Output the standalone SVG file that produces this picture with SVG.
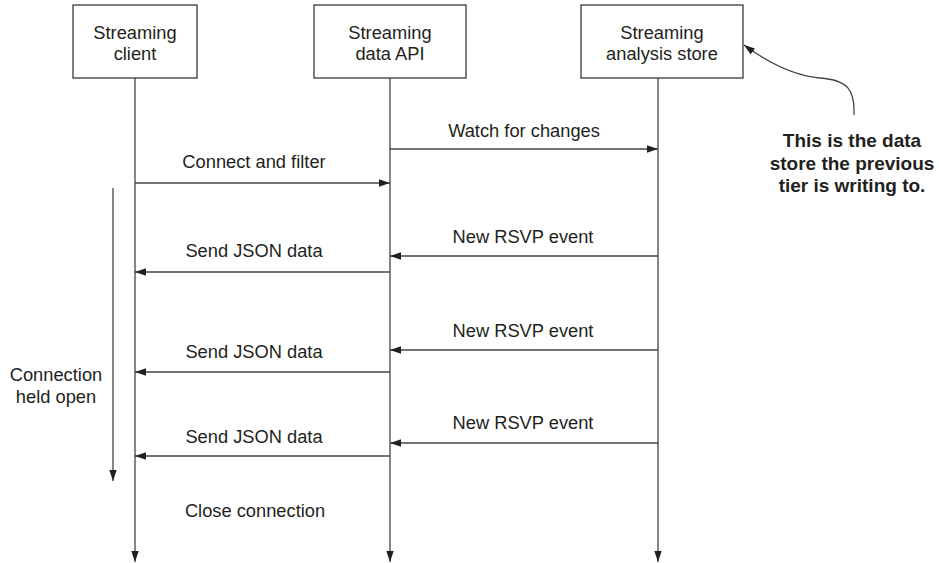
<svg xmlns="http://www.w3.org/2000/svg" width="939" height="563" viewBox="0 0 939 563">
<defs>
<marker id="ah" markerUnits="userSpaceOnUse" markerWidth="12" markerHeight="8" refX="11" refY="4" orient="auto">
<path d="M0,0.3 L11,4 L0,7.7 z" fill="#231f20"/>
</marker>
<style>
.box{fill:#fff;stroke:#3a3a3a;stroke-width:1.3}
.ln{stroke:#444;stroke-width:1.3;fill:none}
.t{font-family:"Liberation Sans",Arial,sans-serif;font-size:18.3px;fill:#231f20;text-anchor:middle}
.note{font-family:"Liberation Sans",Arial,sans-serif;font-size:19px;font-weight:700;fill:#231f20;text-anchor:middle}
</style>
</defs>
<rect width="939" height="563" fill="#fff"/>

<g id="client">
<rect class="box" x="73" y="5" width="124" height="73"/>
<text class="t" x="135" y="39">Streaming</text>
<text class="t" x="135" y="60">client</text>
</g>
<g id="api">
<rect class="box" x="314" y="5" width="152" height="73"/>
<text class="t" x="390" y="39">Streaming</text>
<text class="t" x="390" y="60">data API</text>
</g>
<g id="store">
<rect class="box" x="581" y="5" width="162" height="73"/>
<text class="t" x="662" y="39">Streaming</text>
<text class="t" x="662" y="60">analysis store</text>
</g>

<g id="connectors">
<line class="ln" x1="135" y1="78" x2="135" y2="562" marker-end="url(#ah)"/>
<line class="ln" x1="390" y1="78" x2="390" y2="562" marker-end="url(#ah)"/>
<line class="ln" x1="658" y1="78" x2="658" y2="562" marker-end="url(#ah)"/>

<line class="ln" x1="390" y1="149" x2="658" y2="149" marker-end="url(#ah)"/>
<line class="ln" x1="135" y1="183" x2="390" y2="183" marker-end="url(#ah)"/>
<line class="ln" x1="658" y1="256" x2="390" y2="256" marker-end="url(#ah)"/>
<line class="ln" x1="390" y1="272" x2="135" y2="272" marker-end="url(#ah)"/>
<line class="ln" x1="658" y1="350" x2="390" y2="350" marker-end="url(#ah)"/>
<line class="ln" x1="390" y1="372" x2="135" y2="372" marker-end="url(#ah)"/>
<line class="ln" x1="658" y1="443" x2="390" y2="443" marker-end="url(#ah)"/>
<line class="ln" x1="390" y1="456" x2="135" y2="456" marker-end="url(#ah)"/>

<line class="ln" x1="113" y1="188" x2="113" y2="481" marker-end="url(#ah)"/>

<path class="ln" d="M854,115 C855,90 848,80 820,78 C795,76 770,64 744,45" marker-end="url(#ah)"/>
</g>

<g id="labels">
<text class="t" x="524" y="137">Watch for changes</text>
<text class="t" x="254" y="168">Connect and filter</text>
<text class="t" x="523" y="243">New RSVP event</text>
<text class="t" x="254" y="257">Send JSON data</text>
<text class="t" x="523" y="337">New RSVP event</text>
<text class="t" x="254" y="358">Send JSON data</text>
<text class="t" x="523" y="429">New RSVP event</text>
<text class="t" x="254" y="443">Send JSON data</text>
<text class="t" x="255" y="517">Close connection</text>
<text class="t" x="56" y="381">Connection</text>
<text class="t" x="56" y="403">held open</text>
</g>

<g id="note">
<text class="note" x="852" y="147">This is the data</text>
<text class="note" x="852" y="169.5">store the previous</text>
<text class="note" x="852" y="192">tier is writing to.</text>
</g>
</svg>
